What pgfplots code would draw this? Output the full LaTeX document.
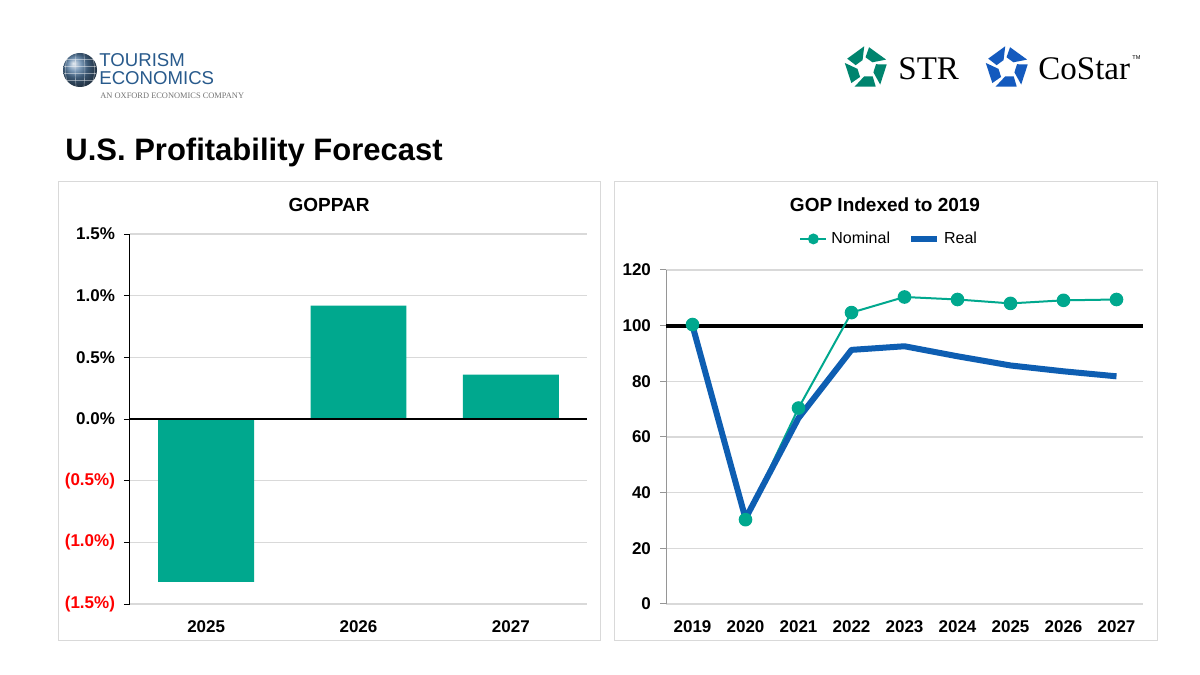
\documentclass[border=0pt]{standalone}
\usepackage{pgfplots}
\pgfplotsset{compat=1.18}
\usepackage{pgfplotstable}
\usepackage{fontspec}
\setmainfont{Liberation Sans}
\newfontfamily\serif{Liberation Serif}
\usetikzlibrary{calc}

\definecolor{goteal}{RGB}{0,168,142}
\definecolor{goblue}{RGB}{14,94,178}
\definecolor{tegray}{RGB}{40,90,140}
\definecolor{panelgray}{RGB}{217,217,217}
\definecolor{gridgray}{RGB}{217,217,217}
\definecolor{axisgray}{RGB}{150,150,150}
\definecolor{strgreen}{RGB}{0,132,110}
\definecolor{costarblue}{RGB}{20,90,190}

% GOPPAR annual change (%)
\pgfplotstableread{
x val
0 -1.32
1 0.92
2 0.36
}\goppar

% GOP index (2019 = 100)
\pgfplotstableread{
x nominal real
0 100.4 100.0
1 30.3 30.7
2 70.4 66.8
3 104.7 91.3
4 110.3 92.6
5 109.4 89.0
6 108.0 85.7
7 109.1 83.6
8 109.4 81.8
}\gop

% pentagon emblem: five slanted segments around a star-shaped opening
\newcommand{\emblem}[4]{% x, y, radius, colour
  \foreach \i in {0,...,4}{
    \pgfmathsetmacro{\a}{90+72*\i}
    \pgfmathsetmacro{\b}{90+72*(\i+1)}
    \coordinate (V0) at ($(#1,#2)+(\a:#3)$);
    \coordinate (V1) at ($(#1,#2)+(\b:#3)$);
    \coordinate (I0) at ($(#1,#2)+(\a:0.45*#3)$);
    \coordinate (I1) at ($(#1,#2)+(\b:0.45*#3)$);
    \fill[#4] ($(V0)!0.08!(V1)$) -- ($(V0)!0.86!(V1)$)
      -- ($(I0)!1.05!(I1)$) -- ($(I0)!0.35!(I1)$) -- cycle;
  }}

\begin{document}
\begin{tikzpicture}[x=1pt,y=1pt]
\fill[white] (0,0) rectangle (600,337.5);

% ---- logos ----
\shade[ball color=tegray!80] (40,302.5) circle (8.5);
\foreach \k in {-6,-2,2,6}{\draw[white,opacity=0.45,line width=0.3] (40+\k,294.5) .. controls (40+\k*1.3,302.5) .. (40+\k,310.5);}
\foreach \k in {-5,-1.5,2,5.5}{\draw[white,opacity=0.45,line width=0.3] (32,302.5+\k) -- (48,302.5+\k);}
\node[anchor=west,inner sep=0,text=tegray,font=\fontsize{9.3}{10}\selectfont] at (49.5,307.5) {TOURISM};
\node[anchor=west,inner sep=0,text=tegray,font=\fontsize{9.3}{10}\selectfont] at (49.5,298.5) {ECONOMICS};
\node[anchor=west,inner sep=0,text=black!55,font=\serif\fontsize{4.2}{5}\selectfont] at (50,289.5) {AN OXFORD ECONOMICS COMPANY};

\emblem{433}{303.5}{11.5}{strgreen}
\node[anchor=west,inner sep=0,font=\serif\fontsize{16.5}{18}\selectfont] at (449,303) {STR};
\emblem{503.5}{303.5}{11.5}{costarblue}
\node[anchor=west,inner sep=0,font=\serif\fontsize{16.5}{18}\selectfont] at (519,303) {CoStar};
\node[anchor=west,inner sep=0,font=\fontsize{2.8}{3}\selectfont] at (566,308.5) {TM};

% ---- heading ----
\node[anchor=west,inner sep=0,font=\bfseries\fontsize{15.5}{18}\selectfont] at (32.5,261.5) {U.S. Profitability Forecast};

% ---- panel frames ----
\draw[panelgray,line width=0.5] (29,17) rectangle (300,246.5);
\draw[panelgray,line width=0.5] (307,17) rectangle (578.5,246.5);

\node[font=\bfseries\fontsize{9.5}{11}\selectfont] at (164.5,235) {GOPPAR};
\node[font=\bfseries\fontsize{9.5}{11}\selectfont] at (442.5,235) {GOP Indexed to 2019};

% ---- GOPPAR bars ----
\begin{axis}[
  at={(65pt,35.5pt)}, anchor=south west,
  scale only axis, width=228.5pt, height=185pt,
  xmin=-0.5, xmax=2.5, ymin=-1.5, ymax=1.5,
  axis x line*=bottom, axis y line*=left,
  x axis line style={draw=none},
  y axis line style={black, line width=0.5pt},
  xtick=data, xticklabels={2025,2026,2027},
  xtick style={draw=none},
  ytick={-1.5,-1,-0.5,0,0.5,1,1.5},
  yticklabels={\textcolor{red}{(1.5\%)},\textcolor{red}{(1.0\%)},\textcolor{red}{(0.5\%)},0.0\%,0.5\%,1.0\%,1.5\%},
  ytick style={black, line width=0.5pt},
  tick align=outside, major tick length=3pt,
  ymajorgrids, major grid style={gridgray, line width=0.6pt},
  tick label style={font=\bfseries\fontsize{8.5}{10}\selectfont},
  xticklabel style={yshift=-2pt},
  yticklabel style={xshift=-1pt},
  clip=false,
]
\addplot[ybar, bar width=0.63, fill=goteal, draw=none] table[x=x, y=val] {\goppar};
\draw[black, line width=0.6pt] (axis cs:-0.5,0) -- (axis cs:2.5,0);
\end{axis}

% ---- GOP index lines ----
\begin{axis}[
  at={(333pt,35.5pt)}, anchor=south west,
  scale only axis, width=238.5pt, height=167pt,
  xmin=-0.5, xmax=8.5, ymin=0, ymax=120,
  axis x line*=bottom, axis y line*=left,
  x axis line style={draw=none},
  y axis line style={axisgray, line width=0.5pt},
  xtick={0,...,8}, xticklabels={2019,2020,2021,2022,2023,2024,2025,2026,2027},
  xtick style={draw=none},
  ytick={0,20,...,120},
  ytick style={axisgray, line width=0.5pt},
  tick align=outside, major tick length=3pt,
  ymajorgrids, major grid style={gridgray, line width=0.6pt},
  /pgf/number format/assume math mode=true,
  tick label style={font=\bfseries\fontsize{8.5}{10}\selectfont},
  xticklabel style={yshift=-2pt},
  yticklabel style={xshift=-1pt},
  legend columns=2,
  legend style={at={(0.47,1.093)}, anchor=center, draw=none, fill=none,
    font=\fontsize{8}{9}\selectfont, inner sep=0pt,
    /tikz/every even column/.append style={column sep=7pt}},
  legend cell align=left,
  legend image code/.code={\draw[mark repeat=2,mark phase=2,#1,mark size=2.2pt] plot coordinates {(0pt,0pt) (6.5pt,0pt) (13pt,0pt)};},
  clip=false,
]
\addplot[black, line width=2pt, forget plot] coordinates {(-0.5,100) (8.5,100)};
\addplot[goteal, line width=1pt, mark=*, mark size=2.9pt, mark options={fill=goteal, draw=goteal}] table[x=x, y=nominal] {\gop};
\addlegendentry{Nominal}
\addplot[goblue, line width=3pt, line join=round] table[x=x, y=real] {\gop};
\addlegendentry{Real}
\end{axis}
\end{tikzpicture}
\end{document}
